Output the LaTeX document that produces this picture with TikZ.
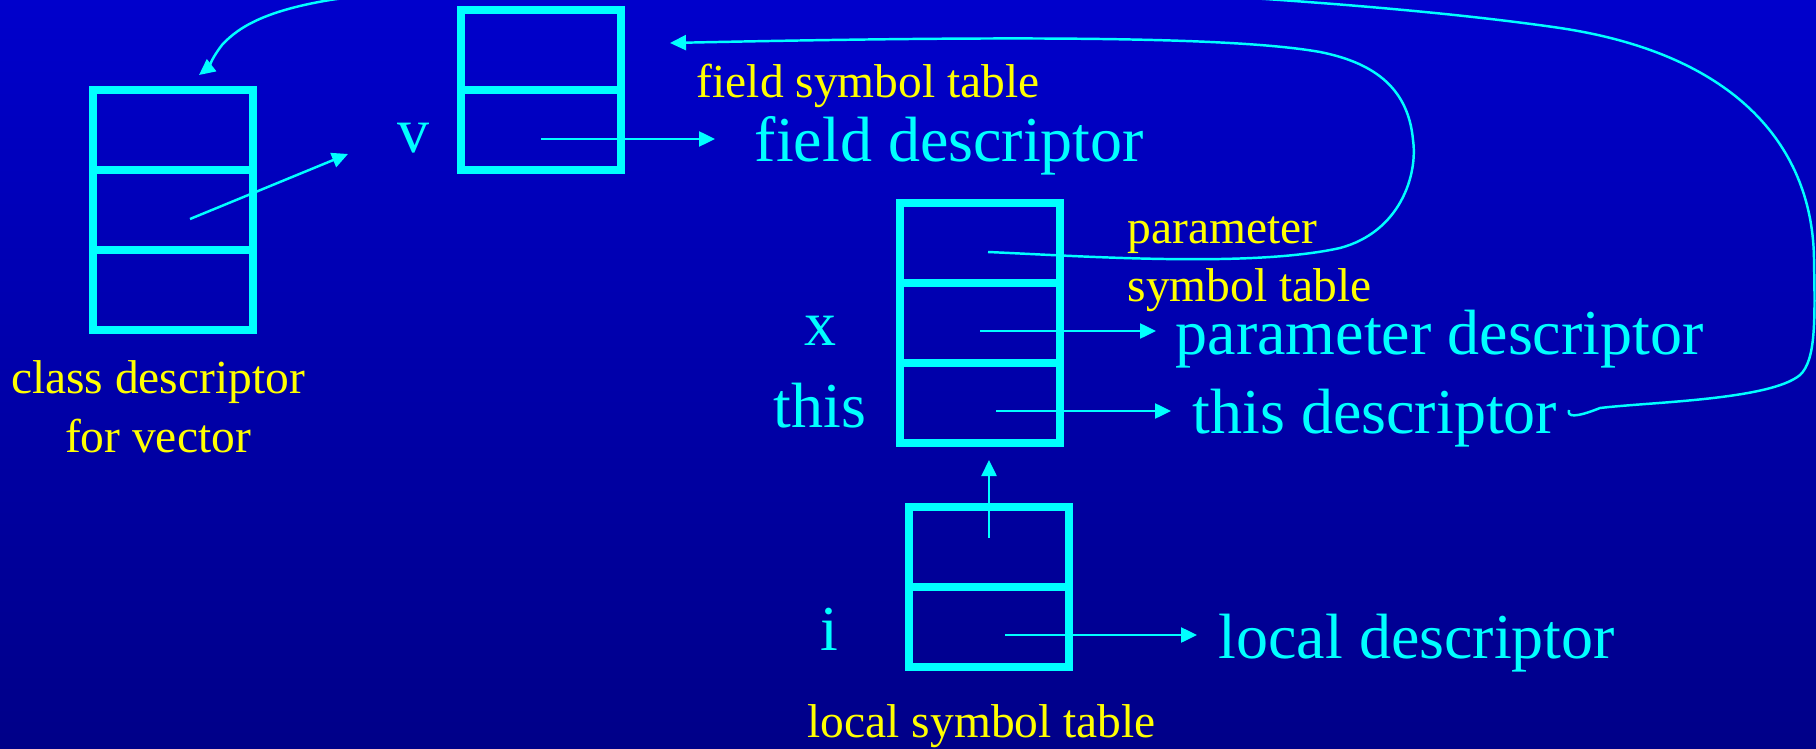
\documentclass[tikz,border=0pt]{standalone}
\usepackage{fontspec}
\setmainfont{Liberation Serif}
\usetikzlibrary{arrows.meta, positioning, calc}
\definecolor{symcyan}{RGB}{0,255,255}
\definecolor{symyellow}{RGB}{255,255,0}
\definecolor{slidetop}{RGB}{0,0,204}
\definecolor{slidemid}{RGB}{0,0,188}
\definecolor{slidebot}{RGB}{0,0,136}

\begin{document}
\begin{tikzpicture}[x=0.01cm, y=-0.01cm,
  cell/.style={draw=symcyan, line width=2.1pt, minimum width=1.6cm,
               minimum height=0.8cm, inner sep=0pt, outer sep=0pt},
  ptr/.style={symcyan, line width=0.7pt, -{Triangle[length=0.16cm, width=0.15cm]}},
  desc/.style={text=symcyan, font=\fontsize{18.2}{21}\selectfont, inner sep=0pt},
  note/.style={text=symyellow, font=\fontsize{13.5}{16.5}\selectfont, inner sep=0pt}]
  % background
  \shade[top color=slidetop, middle color=slidemid, bottom color=slidebot]
    (0,0) rectangle (1816,749);
  \useasboundingbox (0,0) rectangle (1816,749);
  % symbol tables
  \foreach \r in {1,2,3}
    \node[cell] (c\r) at (173, 50+80*\r) {};
  \foreach \r in {1,2}
    \node[cell] (f\r) at (541, -30+80*\r) {};
  \foreach \r in {1,2,3}
    \node[cell] (p\r) at (980, 163+80*\r) {};
  \foreach \r in {1,2}
    \node[cell] (l\r) at (989, 467+80*\r) {};
  % names
  \node[desc, anchor=base] (vname) at (413,153) {v};
  \node[desc, anchor=base] (xname) at (820,346) {x};
  \node[desc, anchor=base] (thisname) at (820,427) {this};
  \node[desc, anchor=base] (iname) at (829,650) {i};
  % descriptors
  \node[desc, anchor=base west] (fdesc) at (754,162) {field descriptor};
  \node[desc, anchor=base west] (pdesc) at (1175,354) {parameter descriptor};
  \node[desc, anchor=base west] (tdesc) at (1192,433) {this descriptor};
  \node[desc, anchor=base west] (ldesc) at (1218,658) {local descriptor};
  % captions (base = last line)
  \node[note, anchor=base west] (fcap) at (696,98) {field symbol table};
  \node[note, anchor=base west, align=left] (pcap) at (1127,302) {parameter\\symbol table};
  \node[note, anchor=base, align=center] (ccap) at (158,452) {class descriptor\\for vector};
  \node[note, anchor=base west] (lcap) at (807,737) {local symbol table};
  % pointer ends
  \coordinate (vin) at (348,154);
  \coordinate (fin) at (715,139);
  \coordinate (pin) at (1156,331);
  \coordinate (tin) at (1171,411);
  \coordinate (lin) at (1197,635);
  \coordinate (upin) at (989,460);
  \coordinate (fieldtop) at (670,43);
  \coordinate (classtop) at (199,75);
  \coordinate (tout) at (1569,410);
  % pointers
  \draw[ptr] ([shift={(17,9)}]c2.center) -- (vin);
  \draw[ptr] ([shift={(0,9)}]f2.center) -- (fin);
  \draw[ptr] ([shift={(0,8)}]p2.center) -- (pin);
  \draw[ptr] ([shift={(16,8)}]p3.center) -- (tin);
  \draw[ptr] ([shift={(16,8)}]l2.center) -- (lin);
  \draw[ptr] ([shift={(0,-9)}]l1.center) -- (upin);
  % enclosing scope links
  \draw[ptr] ([shift={(8,9)}]p1.center) .. controls (1080,256) and (1250,268) .. (1340,248)
    .. controls (1400,232) and (1418,175) .. (1413,140)
    .. controls (1408,85) and (1370,62) .. (1320,52)
    .. controls (1230,36) and (1000,36) .. (fieldtop);
  \begin{scope}
    \clip (0,0) rectangle (1816,749);
    \draw[ptr] (tout) .. controls (1567,417) and (1575,418) .. (1600,408)
      .. controls (1650,402) and (1770,400) .. (1800,375)
      .. controls (1816,360) and (1815,320) .. (1814,260)
      .. controls (1813,150) and (1740,55) .. (1560,28)
      .. controls (1450,12) and (1300,0) .. (1150,-8)
      .. controls (800,-30) and (500,-25) .. (330,0)
      .. controls (270,10) and (240,25) .. (222,45)
      .. controls (212,58) and (208,68) .. (classtop);
  \end{scope}
\end{tikzpicture}
\end{document}
